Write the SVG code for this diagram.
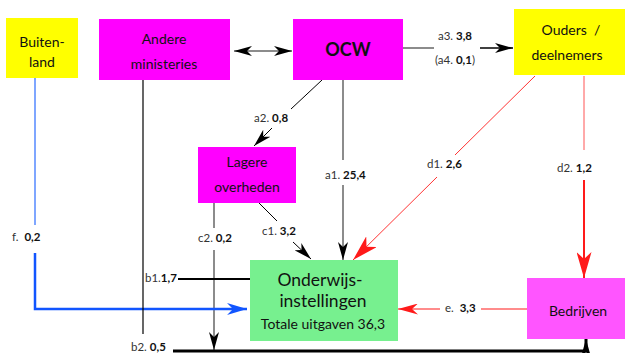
<svg xmlns="http://www.w3.org/2000/svg" width="625" height="353" viewBox="0 0 625 353">
<style>
text{font-family:Lato,"Liberation Sans",sans-serif;fill:#111}
.n{font-size:14px;text-anchor:middle}
.l{font-size:11.5px;fill:#333;white-space:pre}
.l tspan{font-weight:bold;fill:#111}
.ln{fill:none;stroke-linecap:butt}
</style>
<defs>
<marker id="ab" markerUnits="userSpaceOnUse" markerWidth="18" markerHeight="10" refX="18" refY="5" orient="auto-start-reverse" viewBox="0 0 18 10"><path d="M0,0 L18,5 L0,10 L5,5 z" fill="#000"/></marker>
<marker id="ar" markerUnits="userSpaceOnUse" markerWidth="26" markerHeight="15" refX="26" refY="7.5" orient="auto" viewBox="0 0 26 15"><path d="M0,0 L26,7.5 L0,15 L7,7.5 z" fill="#ff1a1a"/></marker>
<marker id="ae" markerUnits="userSpaceOnUse" markerWidth="20" markerHeight="11" refX="20" refY="5.5" orient="auto" viewBox="0 0 20 11"><path d="M0,0 L20,5.5 L0,11 L6,5.5 z" fill="#ff1a1a"/></marker>
<marker id="abl" markerUnits="userSpaceOnUse" markerWidth="20" markerHeight="12" refX="20" refY="6" orient="auto" viewBox="0 0 20 12"><path d="M0,0 L20,6 L0,12 L6,6 z" fill="#1155ff"/></marker>
</defs>
<g id="connectors">
<line class="ln" x1="234" y1="51" x2="292" y2="51" stroke="#666" stroke-width="1.5" marker-start="url(#ab)" marker-end="url(#ab)"/>
<line class="ln" x1="403" y1="48" x2="434" y2="48" stroke="#666" stroke-width="1.5"/>
<line class="ln" x1="480" y1="48" x2="513" y2="48" stroke="#000" stroke-width="1.5" marker-end="url(#ab)"/>
<line class="ln" x1="322" y1="80" x2="291" y2="109" stroke="#000" stroke-width="1"/>
<line class="ln" x1="272" y1="128" x2="254" y2="146" stroke="#000" stroke-width="1" marker-end="url(#ab)"/>
<line class="ln" x1="343" y1="80" x2="343" y2="160" stroke="#666" stroke-width="1.5"/>
<line class="ln" x1="343" y1="185" x2="343" y2="260" stroke="#666" stroke-width="1.5" marker-end="url(#ab)"/>
<line class="ln" x1="535" y1="76" x2="455" y2="155" stroke="#ff3333" stroke-width="1"/>
<line class="ln" x1="437" y1="177" x2="353" y2="260" stroke="#ff3333" stroke-width="1" marker-end="url(#ar)"/>
<line class="ln" x1="584" y1="76" x2="584" y2="150" stroke="#ff5555" stroke-width="1"/>
<line class="ln" x1="584" y1="180" x2="584" y2="278" stroke="#ff1a1a" stroke-width="2" marker-end="url(#ar)"/>
<line class="ln" x1="259" y1="203" x2="277" y2="221" stroke="#000" stroke-width="1"/>
<line class="ln" x1="293" y1="242" x2="311" y2="259" stroke="#000" stroke-width="1" marker-end="url(#ab)"/>
<line class="ln" x1="214" y1="203" x2="214" y2="228" stroke="#666" stroke-width="1.5"/>
<line class="ln" x1="214" y1="250" x2="214" y2="350" stroke="#666" stroke-width="1.5" marker-end="url(#ab)"/>
<line class="ln" x1="35" y1="78" x2="35" y2="225" stroke="#5588ff" stroke-width="1.5"/>
<polyline class="ln" points="35,253 35,309 247,309" stroke="#1155ff" stroke-width="2.5" marker-end="url(#abl)"/>
<line class="ln" x1="143" y1="80" x2="143" y2="334" stroke="#000" stroke-width="1.2"/>
<line class="ln" x1="178" y1="279" x2="250" y2="279" stroke="#000" stroke-width="2"/>
<polyline class="ln" points="173,351 586,351 586,339" stroke="#000" stroke-width="3" marker-end="url(#ab)"/>
<line class="ln" x1="527" y1="309" x2="481" y2="309" stroke="#ff1a1a" stroke-width="1.2"/>
<line class="ln" x1="440" y1="309" x2="398" y2="309" stroke="#ff1a1a" stroke-width="1.2" marker-end="url(#ae)"/>
<text class="l" x="455" y="40" text-anchor="middle">a3. <tspan>3,8</tspan></text>
<text class="l" x="455" y="64" text-anchor="middle">(a4. <tspan>0,1</tspan>)</text>
<text class="l" x="254" y="122">a2. <tspan>0,8</tspan></text>
<text class="l" x="325" y="179">a1. <tspan>25,4</tspan></text>
<text class="l" x="427" y="168">d1. <tspan>2,6</tspan></text>
<text class="l" x="557" y="172">d2. <tspan>1,2</tspan></text>
<text class="l" x="262" y="235">c1. <tspan>3,2</tspan></text>
<text class="l" x="198" y="242">c2. <tspan>0,2</tspan></text>
<text class="l" x="12" y="241">f.  <tspan>0,2</tspan></text>
<text class="l" x="145" y="282">b1.<tspan>1,7</tspan></text>
<text class="l" x="131" y="351">b2. <tspan>0,5</tspan></text>
<text class="l" x="445" y="312">e.  <tspan>3,3</tspan></text>
</g>
<g id="buitenland"><rect x="6" y="18" width="72" height="60" fill="#ffff00"/><text class="n" x="42" y="47">Buiten-</text><text class="n" x="42" y="67">land</text></g>
<g id="andere-ministeries"><rect x="99" y="19" width="131" height="61" fill="#ff00ff"/><text class="n" x="164" y="44">Andere</text><text class="n" x="164" y="69">ministeries</text></g>
<g id="ocw"><rect x="293" y="19" width="110" height="61" fill="#ff00ff"/><text x="348" y="56" text-anchor="middle" font-size="18" font-weight="bold">OCW</text></g>
<g id="ouders"><rect x="514" y="9" width="111" height="66" fill="#ffff00"/><text class="n" x="571" y="35" style="white-space:pre">Ouders  /</text><text class="n" x="567" y="60">deelnemers</text></g>
<g id="lagere-overheden"><rect x="198" y="147" width="98" height="56" fill="#ff00ff"/><text class="n" x="247" y="167">Lagere</text><text class="n" x="247" y="192">overheden</text></g>
<g id="onderwijsinstellingen"><rect x="250" y="260" width="148" height="81" fill="#77f08f"/><text text-anchor="middle" font-size="17.5"><tspan x="320" y="286">Onderwijs-</tspan><tspan x="323" y="307">instellingen</tspan></text><text x="323" y="329" text-anchor="middle" font-size="14">Totale uitgaven 36,3</text></g>
<g id="bedrijven"><rect x="527" y="278" width="98" height="61" fill="#ff55ff"/><text class="n" x="578" y="316">Bedrijven</text></g>
</svg>
